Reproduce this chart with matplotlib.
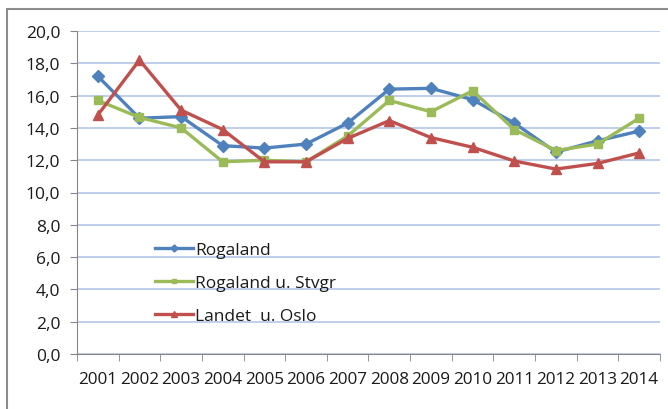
import matplotlib
matplotlib.use("Agg")
import matplotlib.pyplot as plt
from matplotlib.patches import Rectangle
import numpy as np

years = [str(y) for y in range(2001, 2015)]
rogaland = [17.2, 14.6, 14.7, 12.9, 12.75, 13.0, 14.3, 16.4, 16.45, 15.75, 14.3, 12.5, 13.2, 13.8]
rogaland_u_stvgr = [15.7, 14.65, 14.0, 11.9, 12.0, 11.9, 13.5, 15.7, 15.0, 16.3, 13.9, 12.6, 13.0, 14.6]
landet_u_oslo = [14.8, 18.2, 15.1, 13.9, 11.9, 11.9, 13.35, 14.45, 13.4, 12.8, 11.95, 11.45, 11.8, 12.45]

plt.rcParams['font.family'] = ['Open Sans', 'DejaVu Sans']

fig = plt.figure(figsize=(6.68, 4.10), dpi=100)
ax = fig.add_axes([77 / 668, 1 - 355 / 410, 583 / 668, 323 / 410])

# outer chart frame (runs off the right and bottom edge)
fig.patches.append(Rectangle((7 / 668, -0.1), 1.2, 1 - 10 / 410 + 0.1,
                             transform=fig.transFigure, fill=False,
                             edgecolor='#8c8c8c', linewidth=1.5))

x = np.arange(len(years))
ax.plot(x, rogaland, color='#4F81BD', lw=2.4, marker='D', ms=6,
        label='Rogaland')
ax.plot(x, rogaland_u_stvgr, color='#9BBB59', lw=2.4, marker='s', ms=6,
        label='Rogaland u. Stvgr')
ax.plot(x, landet_u_oslo, color='#C0504D', lw=2.4, marker='^', ms=7,
        label='Landet  u. Oslo')

ax.set_xlim(-0.5, len(years) - 0.5)
ax.set_ylim(0, 20)
ax.set_yticks(np.arange(0, 21, 2))
ax.set_yticklabels([f"{v:.1f}".replace('.', ',') for v in np.arange(0, 21, 2)])
ax.set_xticks(x)
ax.set_xticklabels(years)
ax.set_xticks(np.arange(-0.5, len(years), 1), minor=True)
ax.tick_params(axis='x', which='major', length=0, pad=12, labelsize=12.3,
               colors='#1a1a1a')
ax.tick_params(axis='x', which='minor', length=5, color='#868686')
ax.tick_params(axis='y', length=5, color='#868686', pad=7, labelsize=12.5,
               labelcolor='#1a1a1a')

ax.grid(axis='y', color='#B4C7E7', lw=1.2)
ax.set_axisbelow(True)
for s in ['top', 'right']:
    ax.spines[s].set_visible(False)
ax.spines['left'].set_color('#868686')
ax.spines['bottom'].set_color('#868686')

ax.legend(loc='center left', bbox_to_anchor=(0.107, 0.22), frameon=False,
          fontsize=12.5, handlelength=2.2, handletextpad=0.1,
          labelspacing=0.95, markerscale=0.6, labelcolor='#1a1a1a')

fig.savefig("out.png", dpi=100)
plt.close(fig)
